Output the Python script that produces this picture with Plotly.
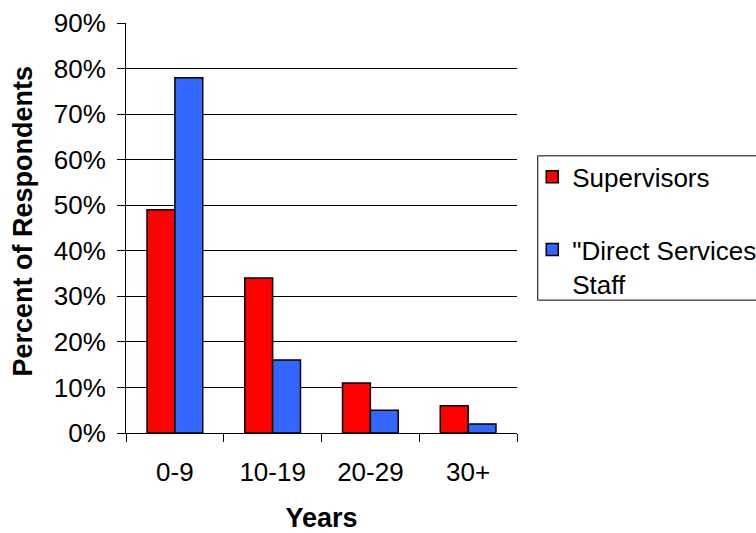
import plotly.graph_objects as go

# Years of experience buckets and the share of respondents in each
years = ["0-9", "10-19", "20-29", "30+"]
supervisors = [0.49, 0.34, 0.11, 0.06]
direct_staff = [0.78, 0.16, 0.05, 0.02]

y_ticks = [i / 10 for i in range(10)]

FONT = "Liberation Sans, Arial, sans-serif"

fig = go.Figure()
fig.add_trace(go.Bar(
    x=years, y=supervisors, name="Supervisors",
    legendgroup="a",
    marker=dict(color="#FF0000", line=dict(color="black", width=1.5)),
))
fig.add_trace(go.Bar(
    x=years, y=direct_staff, name="\"Direct Services\"<br>Staff",
    legendgroup="b",
    marker=dict(color="#3366FF", line=dict(color="black", width=1.5)),
))

# legend frame drawn separately so it can run off the right edge
fig.add_shape(
    type="rect", xref="paper", yref="paper",
    x0=1.053, x1=1.7, y0=0.324, y1=0.676,
    line=dict(color="black", width=1), fillcolor="rgba(0,0,0,0)",
    layer="above",
)

# rotated y-axis title
fig.add_annotation(
    text="<b>Percent of Respondents</b>", textangle=-90,
    xref="paper", yref="paper", x=-0.263, y=0.516,
    xanchor="center", yanchor="middle", showarrow=False,
    font=dict(family=FONT, size=27, color="black"),
)

fig.update_layout(
    width=756, height=533,
    margin=dict(l=126, r=239, t=23, b=100, autoexpand=False),
    paper_bgcolor="white", plot_bgcolor="white",
    font=dict(family=FONT, size=26, color="black"),
    barmode="group", bargap=0.43, bargroupgap=0,
    showlegend=True,
    legend=dict(
        x=1.039, y=0.682, xanchor="left", yanchor="top",
        bgcolor="rgba(0,0,0,0)", borderwidth=0,
        font=dict(family=FONT, size=26, color="black"),
        traceorder="grouped", tracegroupgap=36,
        itemwidth=30, valign="top",
    ),
)

fig.update_yaxes(
    range=[0, 0.9], tickvals=y_ticks, tickformat=".0%",
    showgrid=True, gridcolor="black", gridwidth=1,
    showline=True, linecolor="black", linewidth=1,
    ticks="outside", ticklen=8, tickcolor="black",
    ticklabelstandoff=6,
    zeroline=False,
)
fig.update_xaxes(
    showline=True, linecolor="black", linewidth=1,
    ticks="outside", ticklen=8, tickcolor="black",
    tickson="boundaries", ticklabelstandoff=16,
    title=dict(text="<b>Years</b>", standoff=24,
               font=dict(family=FONT, size=27)),
)

fig.write_html("out.html")
